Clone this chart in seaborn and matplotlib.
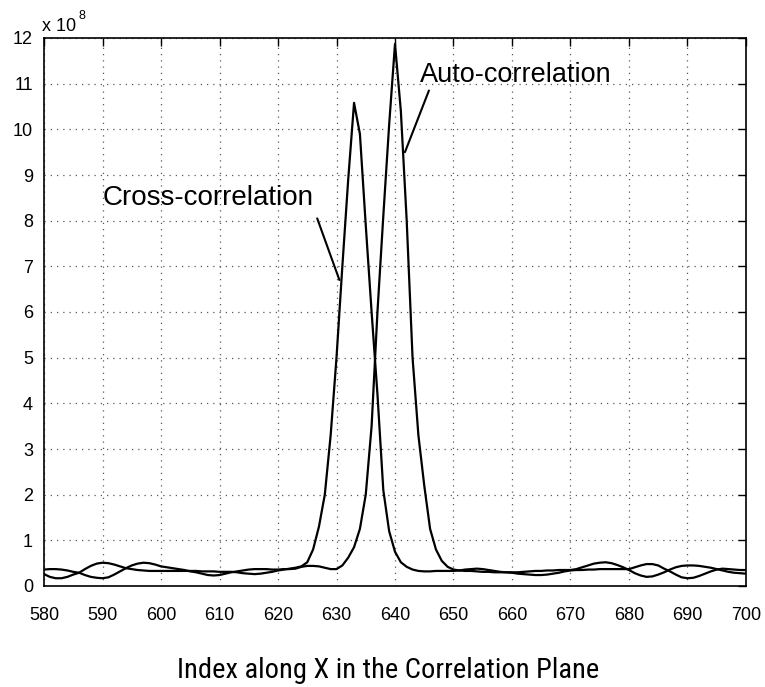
import numpy as np
import pandas as pd
import matplotlib
matplotlib.use("Agg")
import matplotlib.pyplot as plt
import seaborn as sns
from matplotlib import font_manager as fm

# ---- data (values in units of 1e8) ----
index = list(range(580, 701))

cross_e8 = [
    0.26, 0.20, 0.17, 0.17, 0.20, 0.25, 0.29, 0.37, 0.44, 0.49,   # 580-589
    0.51, 0.50, 0.47, 0.43, 0.39, 0.37, 0.35, 0.34, 0.33, 0.33,   # 590-599
    0.33, 0.33, 0.33, 0.33, 0.33, 0.33, 0.33, 0.32, 0.32, 0.32,   # 600-609
    0.31, 0.31, 0.31, 0.30, 0.28, 0.27, 0.26, 0.27, 0.29, 0.31,   # 610-619
    0.34, 0.36, 0.38, 0.40, 0.43, 0.52, 0.80, 1.30, 2.00, 3.30,   # 620-629
    5.00, 7.00, 8.90, 10.58, 9.90, 7.90, 6.00, 4.20, 2.10, 1.20,  # 630-639
    0.75, 0.52, 0.42, 0.36, 0.33, 0.32, 0.32, 0.33, 0.33, 0.33,   # 640-649
    0.33, 0.34, 0.36, 0.37, 0.38, 0.37, 0.35, 0.33, 0.31, 0.30,   # 650-659
    0.30, 0.30, 0.31, 0.32, 0.33, 0.33, 0.34, 0.34, 0.35, 0.35,   # 660-669
    0.35, 0.37, 0.41, 0.45, 0.49, 0.51, 0.52, 0.50, 0.46, 0.41,   # 670-679
    0.35, 0.28, 0.23, 0.20, 0.21, 0.25, 0.30, 0.36, 0.41, 0.44,   # 680-689
    0.45, 0.45, 0.44, 0.42, 0.40, 0.37, 0.34, 0.31, 0.29, 0.28,   # 690-699
    0.27,                                                          # 700
]

auto_e8 = [
    0.36, 0.37, 0.37, 0.36, 0.34, 0.31, 0.29, 0.24, 0.20, 0.18,   # 580-589
    0.17, 0.19, 0.25, 0.32, 0.39, 0.45, 0.49, 0.51, 0.50, 0.47,   # 590-599
    0.43, 0.41, 0.39, 0.37, 0.35, 0.32, 0.30, 0.27, 0.24, 0.23,   # 600-609
    0.24, 0.27, 0.30, 0.32, 0.34, 0.36, 0.37, 0.37, 0.37, 0.36,   # 610-619
    0.36, 0.37, 0.37, 0.38, 0.42, 0.44, 0.44, 0.43, 0.40, 0.37,   # 620-629
    0.37, 0.45, 0.62, 0.85, 1.25, 2.00, 3.50, 6.00, 8.10, 10.10,  # 630-639
    11.87, 10.40, 8.00, 5.00, 3.30, 2.20, 1.25, 0.80, 0.55, 0.42, # 640-649
    0.36, 0.34, 0.33, 0.33, 0.32, 0.31, 0.31, 0.30, 0.30, 0.30,   # 650-659
    0.29, 0.27, 0.26, 0.25, 0.24, 0.24, 0.25, 0.27, 0.29, 0.32,   # 660-669
    0.34, 0.35, 0.35, 0.36, 0.36, 0.37, 0.37, 0.37, 0.37, 0.37,   # 670-679
    0.37, 0.41, 0.45, 0.48, 0.48, 0.45, 0.38, 0.32, 0.25, 0.19,   # 680-689
    0.17, 0.18, 0.22, 0.27, 0.32, 0.36, 0.38, 0.37, 0.36, 0.35,   # 690-699
    0.35,                                                          # 700
]

x_ticks = list(range(580, 701, 10))
y_ticks = list(range(0, 13))

df = pd.DataFrame({
    "index": index * 2,
    "value": cross_e8 + auto_e8,
    "series": ["Cross-correlation"] * len(index) + ["Auto-correlation"] * len(index),
})

sns.set_theme(style="white")
plt.rcParams["font.family"] = ["Liberation Sans", "DejaVu Sans"]

installed = {f.name for f in fm.fontManager.ttflist}
narrow = [n for n in ["Liberation Sans Narrow", "Roboto Condensed", "Fira Sans Condensed",
                      "Sofia Sans Condensed", "Liberation Sans"] if n in installed]

fig = plt.figure(figsize=(7.65, 6.87), dpi=100)
ax = fig.add_axes([44 / 765, 1 - 586 / 687, 702 / 765, 548 / 687])

sns.lineplot(data=df, x="index", y="value", hue="series",
             palette={"Cross-correlation": "black", "Auto-correlation": "black"},
             estimator=None, linewidth=1.6, legend=False, ax=ax)

ax.set_xlim(580, 700)
ax.set_ylim(0, 12)
ax.set_xticks(x_ticks)
ax.set_yticks(y_ticks)
ax.set_xlabel("")
ax.set_ylabel("")

ax.grid(True, linestyle=(0, (1, 4)), linewidth=0.9, color="0.35")
for s in ax.spines.values():
    s.set_visible(True)
    s.set_color("black")
    s.set_linewidth(1.2)

ax.tick_params(axis="both", which="both", direction="in", length=6, width=1,
               top=True, right=True, labelsize=13, colors="black")
ax.tick_params(axis="x", pad=15)
ax.tick_params(axis="y", pad=8)

# exponent label
ax.text(-0.003, 1.012, "x 10", transform=ax.transAxes, fontsize=13,
        ha="left", va="baseline", color="black")
ax.text(0.049, 1.034, "8", transform=ax.transAxes, fontsize=9,
        ha="left", va="baseline", color="black")

# annotations
ax.text(590.1, 8.49, "Cross-correlation", fontsize=20, ha="left", va="center", color="black")
ax.annotate("", xy=(630.5, 6.7), xytext=(626.7, 8.05),
            arrowprops=dict(arrowstyle="-", color="black", lw=1.5, shrinkA=0, shrinkB=0))
ax.text(644.3, 11.2, "Auto-correlation", fontsize=19.5, ha="left", va="center", color="black")
ax.annotate("", xy=(641.7, 9.5), xytext=(645.8, 10.85),
            arrowprops=dict(arrowstyle="-", color="black", lw=1.5, shrinkA=0, shrinkB=0))

fig.text(388 / 765, 1 - 670 / 687, "Index along X in the Correlation Plane",
         fontsize=20.5, ha="center", va="center", color="black",
         family=narrow[:1] + ["DejaVu Sans"])

fig.savefig("out.png", dpi=100, facecolor="white")
